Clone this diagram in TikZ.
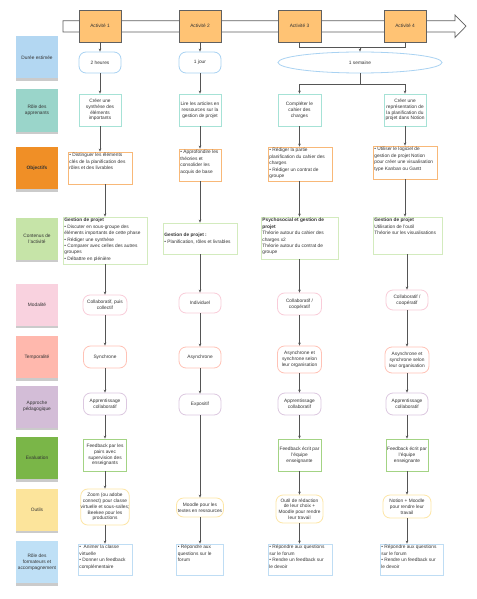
\documentclass[tikz,border=0pt]{standalone}
\usepackage{fontspec}
\setmainfont{Liberation Sans}
\usetikzlibrary{shapes.geometric,arrows.meta,shadows}
\definecolor{txt}{HTML}{333333}
\definecolor{ln}{HTML}{555555}
\definecolor{hdrfill}{HTML}{FFC374}
\definecolor{hdrline}{HTML}{606060}
% label fills
\definecolor{lDur}{HTML}{B3D7F2}
\definecolor{lRol}{HTML}{9AD5CA}
\definecolor{lObj}{HTML}{F08F26}
\definecolor{lCon}{HTML}{C6E4A8}
\definecolor{lMod}{HTML}{F9D2DF}
\definecolor{lTem}{HTML}{FFB8AD}
\definecolor{lApp}{HTML}{D3BDD7}
\definecolor{lEva}{HTML}{7AB648}
\definecolor{lOut}{HTML}{FCE49B}
\definecolor{lFor}{HTML}{BFE0F6}
% box borders
\definecolor{bDur}{HTML}{A9D2F2}
\definecolor{bRol}{HTML}{A6E2D6}
\definecolor{bObj}{HTML}{F8B878}
\definecolor{bCon}{HTML}{D3EBBE}
\definecolor{bMod}{HTML}{F9CCD9}
\definecolor{bTem}{HTML}{FFC2B6}
\definecolor{bApp}{HTML}{DCC8E0}
\definecolor{bEva}{HTML}{A3D384}
\definecolor{bOut}{HTML}{FDE6A6}
\definecolor{bFor}{HTML}{BFDDF4}
\begin{document}
\begin{tikzpicture}[x=1pt,y=-1pt,
  every node/.style={font=\fontsize{4.8}{5.8}\selectfont, text=txt},
  sz/.style 2 args={minimum width=#1pt, minimum height=#2pt},
  hdr/.style={draw=hdrline, fill=hdrfill, line width=0.7pt, minimum width=42pt, minimum height=32pt, inner sep=0pt},
  lab/.style={fill=#1, minimum width=42pt, minimum height=42pt, inner sep=0pt, align=center,
    drop shadow={shadow xshift=0pt, shadow yshift=-2.5pt, fill=black!45, opacity=0.45}},
  cbox/.style={draw=#1, fill=white, line width=0.8pt, align=center, inner sep=0pt},
  rbox/.style={cbox=#1, rounded corners=7pt},
  ltext/.style={anchor=north west, align=left, inner sep=1.6pt, font=\fontsize{4.8}{6.4}\selectfont},
  arr/.style={draw=ln, line width=0.6pt, -{Stealth[length=3pt,width=2.6pt]}},
  plain/.style={draw=ln, line width=0.6pt}
]
\path[fill=white] (0,0) rectangle (476,599);
\useasboundingbox (0,0) rectangle (476,599);

% timeline arrow
\draw[draw=hdrline, fill=white, line width=0.7pt]
  (63,20.7) -- (455,20.7) -- (455,15) -- (466,26.2) -- (455,37.5) -- (455,32) -- (63,32) -- cycle;

% headers
\node[hdr] (a1) at (100,26) {Activité 1};
\node[hdr] (a2) at (200,26) {Activité 2};
\node[hdr, minimum width=43pt] (a3) at (299.5,26) {Activité 3};
\node[hdr] (a4) at (405,26) {Activité 4};

% left labels
\node[lab=lDur] (L1) at (37,57.5) {Durée estimée};
\node[lab=lRol] (L2) at (37,110.5) {Rôle des\\apprenants};
\node[lab=lObj] (L3) at (37,168) {\textbf{Objectifs}};
\node[lab=lCon] (L4) at (37,238.5) {Contenus de\\l'activité};
\node[lab=lMod] (L5) at (37,304.5) {Modalité};
\node[lab=lTem] (L6) at (37,357) {Temporalité};
\node[lab=lApp] (L7) at (37,406.5) {Approche\\pédagogique};
\node[lab=lEva] (L8) at (37,458) {Evaluation};
\node[lab=lOut] (L9) at (37,509.5) {Outils};
\node[lab=lFor] (L10) at (37,562) {Rôle des\\formateurs et\\accompagnement};

% durée
\node[rbox=bDur, sz={42}{21}] (d1) at (100,62.5) {2 heures};
\node[rbox=bDur, sz={42}{21}] (d2) at (200,62.5) {1 jour};
\node[cbox=bDur, ellipse, sz={164}{21}] (d3) at (360,62.5) {1 semaine};

% rôle des apprenants
\node[cbox=bRol, sz={42}{32}] (r1) at (100,110) {Créer une\\synthèse des\\éléments\\importants};
\node[cbox=bRol, sz={42}{32}] (r2) at (200,110) {Lire les articles en\\ressources sur la\\gestion de projet};
\node[cbox=bRol, sz={43}{32}] (r3) at (299.5,110) {Compléter le\\cahier des\\charges};
\node[cbox=bRol, sz={42}{32}] (r4) at (405,110) {Créer une\\représentation de\\la planification du\\projet dans Notion};

% objectifs
\node[cbox=bObj, sz={64}{32}] (o1) at (100,168) {};
\node[ltext] (o1t) at (o1.north west) {• Distinguer les éléments\\clés de la planification des\\rôles et des livrables};
\node[cbox=bObj, sz={42}{32}] (o2) at (200,165) {};
\node[ltext] (o2t) at (o2.north west) {• Approfondire les\\théories et\\consolider les\\acquis de base};
\node[cbox=bObj, sz={64}{34}] (o3) at (300,164) {};
\node[ltext] (o3t) at (o3.north west) {• Rédiger la partie\\planification du cahier des\\charges\\• Rédiger un contrat de\\groupe};
\node[cbox=bObj, sz={64}{33}] (o4) at (405,162.5) {};
\node[ltext] (o4t) at (o4.north west) {• Utiliser le logiciel de\\gestion de projet Notion\\pour créer une visualisation\\type Kanban ou Gantt};

% contenus
\node[cbox=bCon, sz={84}{47}] (c1) at (105,240.5) {};
\node[ltext] (c1t) at (c1.north west) {\textbf{Gestion de projet}\\• Discuter en sous-groupe des\\éléments importants de cette phase\\• Rédiger une synthèse\\• Comparer avec celles des autres\\groupes\\• Débattre en plénière};
\node[cbox=bCon, sz={74}{31}] (c2) at (200,238.5) {};
\node[ltext, anchor=west] (c2t) at (c2.west) {\textbf{Gestion de projet :}\\• Planification, rôles et livrables};
\node[cbox=bCon, sz={77}{42}] (c3) at (299.5,238) {};
\node[ltext] (c3t) at (c3.north west) {\textbf{Psychosocial et gestion de}\\\textbf{projet}\\Théorie autour du cahier des\\charges x2\\Théorie autour du contrat de\\groupe};
\node[cbox=bCon, sz={69}{37}] (c4) at (407.5,235.5) {};
\node[ltext] (c4t) at (c4.north west) {\textbf{Gestion de projet}\\Utilisation de l'outil\\Théorie sur les visualisations};

% modalité
\node[rbox=bMod, sz={44}{20}] (m1) at (105,305) {Collaboratif, puis\\collectif};
\node[rbox=bMod, sz={42}{20}] (m2) at (200,303) {Individuel};
\node[rbox=bMod, sz={44}{22}] (m3) at (299.5,304) {Collaboratif /\\coopératif};
\node[rbox=bMod, sz={42}{20}] (m4) at (407,300) {Collaboratif /\\coopératif};

% temporalité
\node[rbox=bTem, sz={43}{22}] (t1) at (105,357) {Synchrone};
\node[rbox=bTem, sz={42}{21}] (t2) at (200,357.5) {Asynchrone};
\node[rbox=bTem, sz={44}{27}] (t3) at (299.5,359.5) {Asynchrone et\\synchrone selon\\leur organisation};
\node[rbox=bTem, sz={44}{26}] (t4) at (407,360) {Asynchrone et\\synchrone selon\\leur organisation};

% approche
\node[rbox=bApp, sz={43}{22}] (p1) at (105,404) {Apprentissage\\collaboratif};
\node[rbox=bApp, sz={42}{21}] (p2) at (200,404.5) {Expositif};
\node[rbox=bApp, sz={43}{22}] (p3) at (299.5,404) {Apprentissage\\collaboratif};
\node[rbox=bApp, sz={42}{22}] (p4) at (407,404) {Apprentissage\\collaboratif};

% évaluation
\node[cbox=bEva, sz={43}{32}] (e1) at (105,455) {Feedback par les\\pairs avec\\supervision des\\enseignants};
\node[cbox=bEva, sz={43}{32}] (e3) at (299.5,455) {Feedback écrit par\\l'équipe\\enseignante};
\node[cbox=bEva, sz={42}{32}] (e4) at (407,455) {Feedback écrit par\\l'équipe\\enseignante};

% outils
\node[rbox=bOut, sz={48}{36}] (u1) at (105,507) {Zoom (ou adobe\\connect) pour classe\\virtuelle et sous-salles;\\Beekee pour les\\productions};
\node[rbox=bOut, sz={47}{19}] (u2) at (200,507.5) {Moodle pour les\\textes en ressources};
\node[rbox=bOut, sz={47}{28}] (u3) at (299.5,509) {Outil de rédaction\\de leur choix +\\Moodle pour rendre\\leur travail};
\node[rbox=bOut, sz={48}{23}] (u4) at (407,506.5) {Notion + Moodle\\pour rendre leur\\travail};

% formateurs
\node[cbox=bFor, sz={54}{31}] (f1) at (105,559.5) {};
\node[ltext] (f1t) at (f1.north west) {•\ \ Animer la classe\\virtuelle\\• Donner un feedback\\complémentaire};
\node[cbox=bFor, sz={47}{31}] (f2) at (200,559.5) {};
\node[ltext] (f2t) at (f2.north west) {• Répondre aux\\questions sur le\\forum};
\node[cbox=bFor, sz={64}{31}] (f3) at (300,559.5) {};
\node[ltext] (f3t) at (f3.north west) {• Répondre aux questions\\sur le forum\\• Rendre un feedback sur\\le devoir};
\node[cbox=bFor, sz={63}{31}] (f4) at (411.5,559.5) {};
\node[ltext] (f4t) at (f4.north west) {• Répondre aux questions\\sur le forum\\• Rendre un feedback sur\\le devoir};

% connectors: headers -> durée
\draw[arr] (a1) -- (d1);
\draw[arr] (a2) -- (d2);
\coordinate (j1) at (360,47.7);
\draw[plain] (a3.south) |- (j1) -| (a4.south);
\draw[arr] (j1) -- (d3.north);
% durée -> rôle
\draw[arr] (d1) -- (r1);
\draw[arr] (d2) -- (r2);
\coordinate (j2) at (360,84);
\draw[plain] (d3.south) -- (j2);
\draw[arr] (j2) -| (r3.north);
\draw[arr] (j2) -| (r4.north);
% rôle -> objectifs
\draw[arr] (r1.south) -- (r1.south |- o1.north);
\draw[arr] (r2) -- (o2);
\draw[arr] (r3.south) -- (r3.south |- o3.north);
\draw[arr] (r4) -- (o4);
% objectifs -> contenus
\draw[arr] (o1.south -| c1.north) -- (c1.north);
\draw[arr] (o2) -- (c2);
\draw[arr] (o3.south -| r3.south) -- (c3.north -| r3.south);
\draw[arr] (o4.south) -- (c4.north -| o4.south);
% contenus -> modalité
\draw[arr] (c1.south -| m1.north) -- (m1.north);
\draw[arr] (c2) -- (m2);
\draw[arr] (c3.south -| m3.north) -- (m3.north);
\draw[arr] (c4.south -| m4.north) -- (m4.north);
% modalité -> temporalité
\draw[arr] (m1) -- (t1);
\draw[arr] (m2) -- (t2);
\draw[arr] (m3) -- (t3);
\draw[arr] (m4) -- (t4);
% temporalité -> approche
\draw[arr] (t1) -- (p1);
\draw[arr] (t2) -- (p2);
\draw[arr] (t3) -- (p3);
\draw[arr] (t4) -- (p4);
% approche -> évaluation / outils
\draw[arr] (p1) -- (e1);
\draw[arr] (p2) -- (u2);
\draw[arr] (p3) -- (e3);
\draw[arr] (p4) -- (e4);
% évaluation -> outils
\draw[arr] (e1) -- (u1);
\draw[arr] (e3) -- (u3);
\draw[arr] (e4) -- (u4);
% outils -> formateurs
\draw[arr] (u1) -- (f1);
\draw[arr] (u2) -- (f2);
\draw[arr] (u3.south) -- (f3.north -| u3.south);
\draw[arr] (u4.south) -- (f4.north -| u4.south);
\end{tikzpicture}
\end{document}
